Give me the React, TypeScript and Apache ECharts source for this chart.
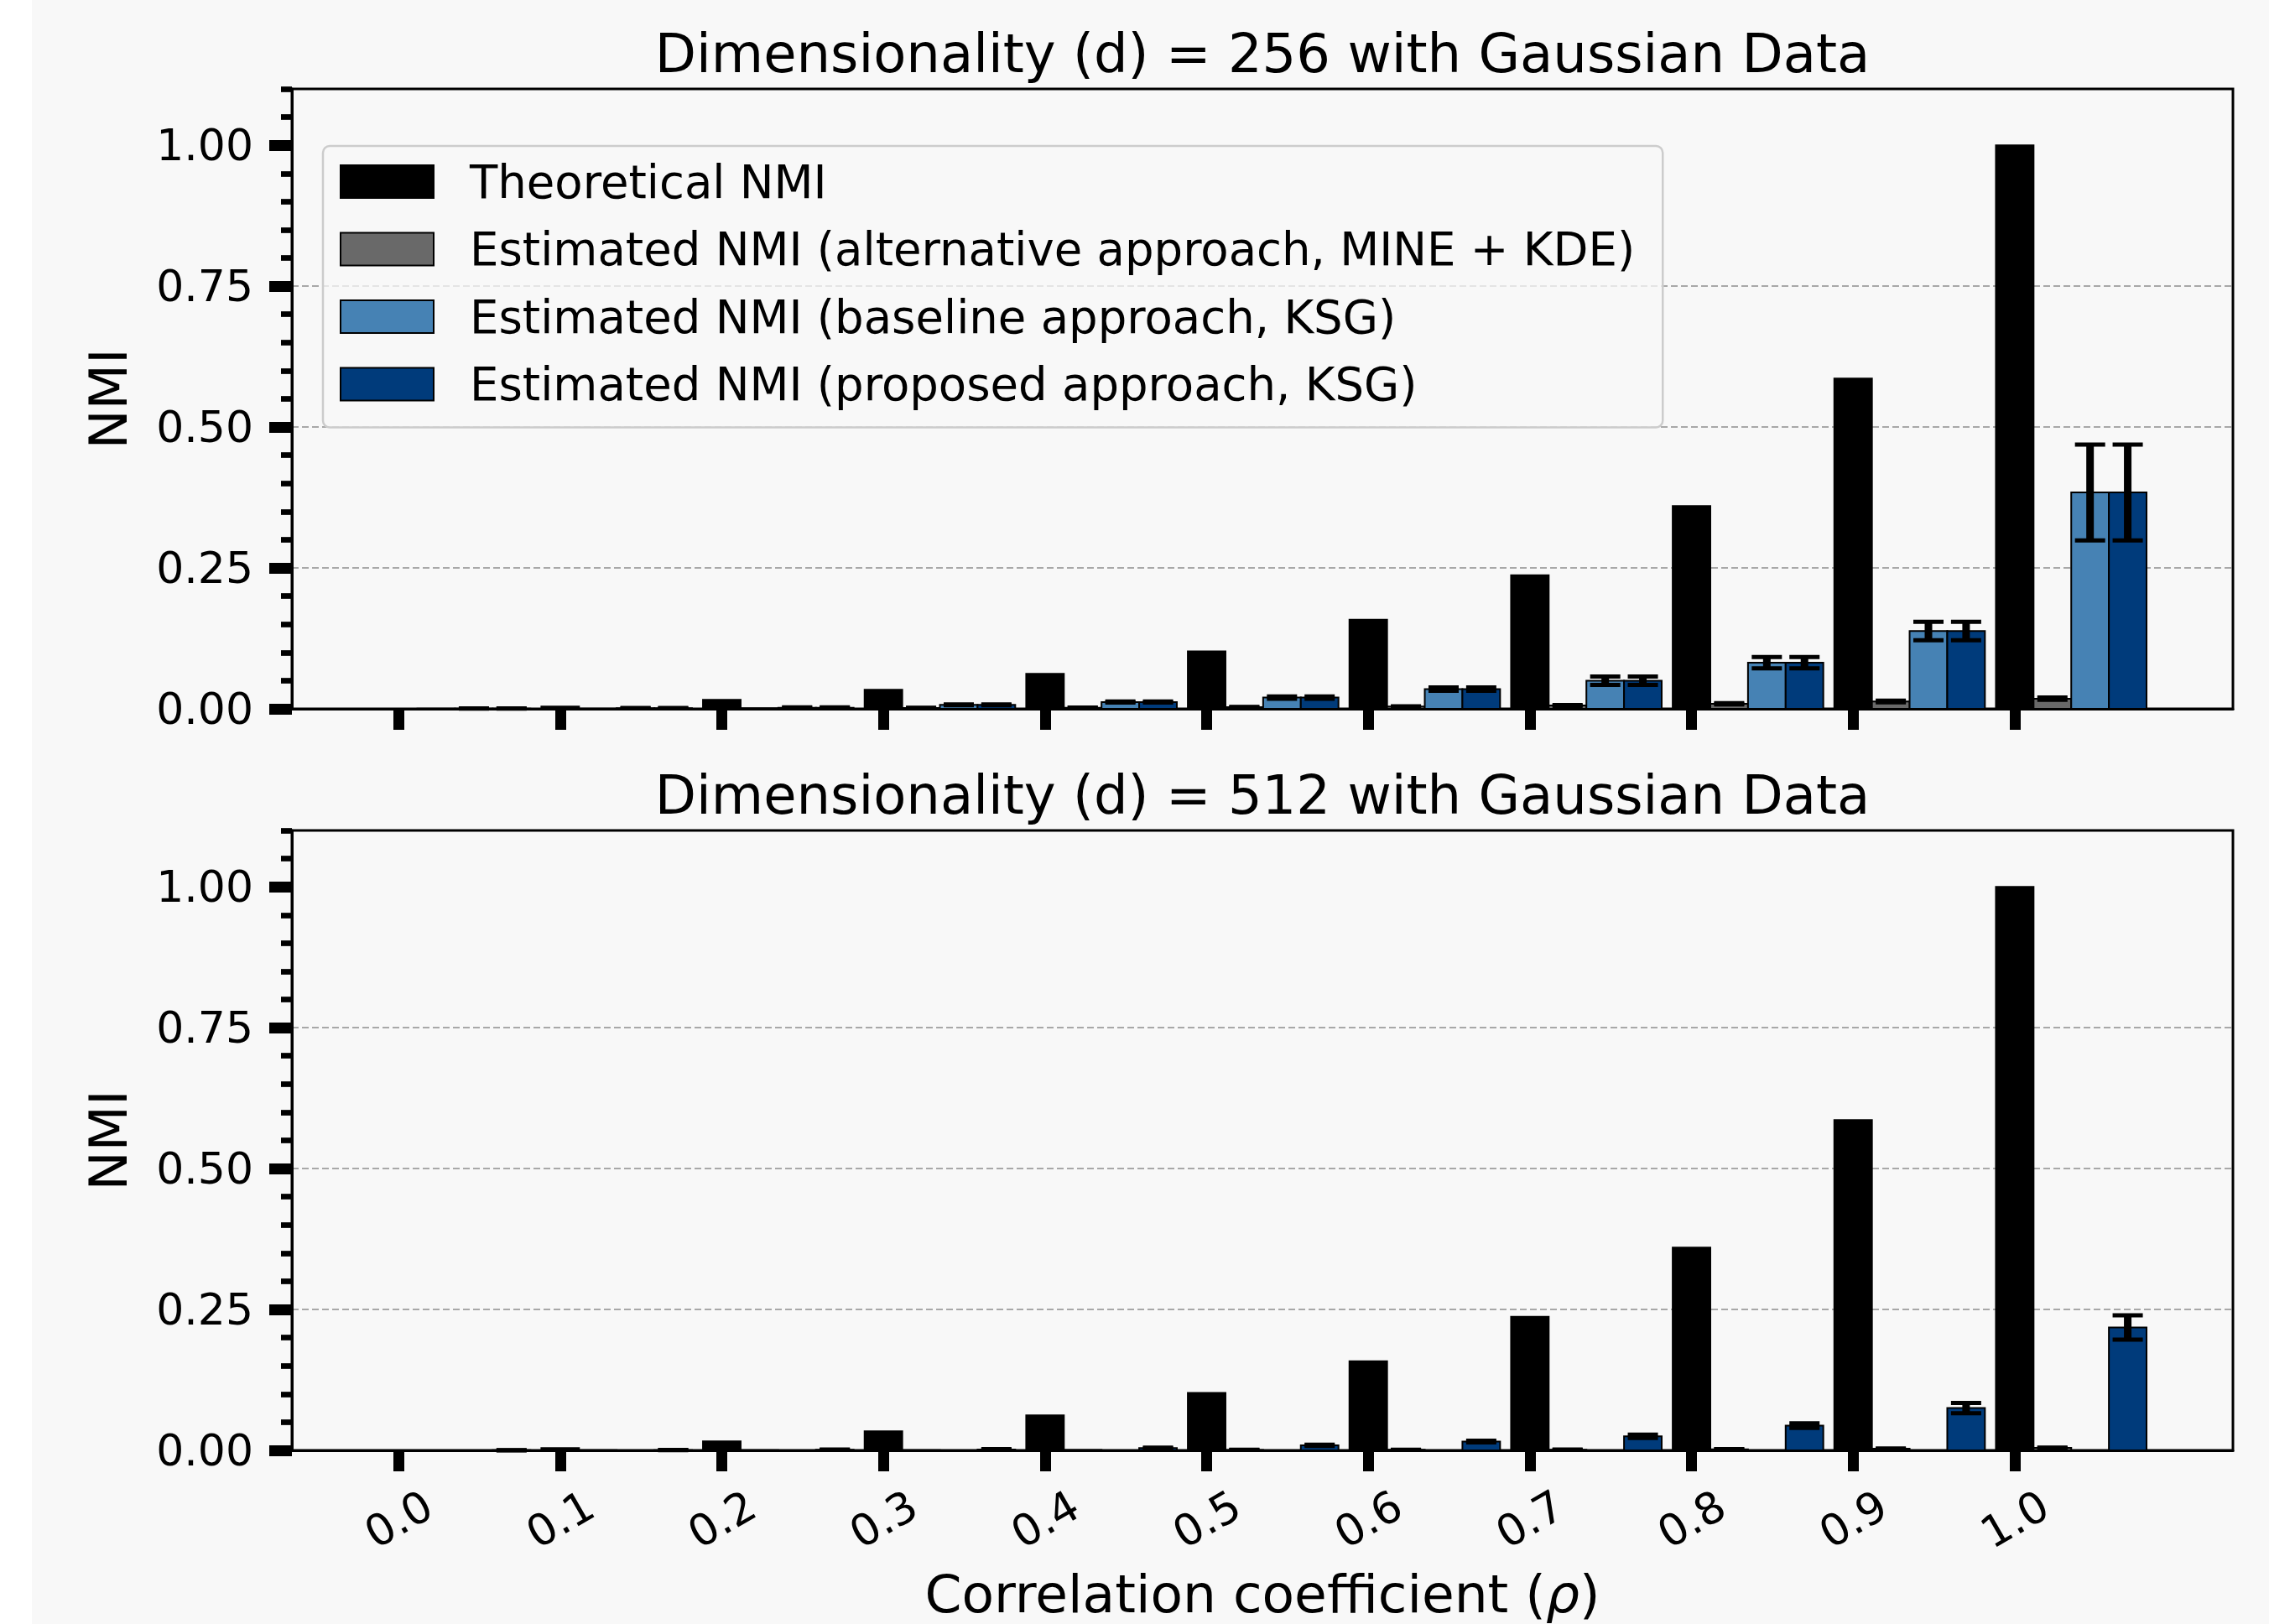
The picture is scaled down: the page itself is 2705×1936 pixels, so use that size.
import React, { useEffect, useRef } from 'react';
import * as echarts from 'echarts';

// ---------- data ----------
const rho = [0.0, 0.1, 0.2, 0.3, 0.4, 0.5, 0.6, 0.7, 0.8, 0.9, 1.0];
const rhoTickLabels = ['0.0', '0.1', '0.2', '0.3', '0.4', '0.5', '0.6', '0.7', '0.8', '0.9', '1.0'];
const yMajorTicks = [0, 0.25, 0.5, 0.75, 1.0];
const yMajorLabels = ['0.00', '0.25', '0.50', '0.75', '1.00'];
const yMinorTicks = [0.05, 0.1, 0.15, 0.2, 0.3, 0.35, 0.4, 0.45, 0.55, 0.6, 0.65, 0.7, 0.8, 0.85, 0.9, 0.95, 1.05, 1.1];

const theoreticalNMI = [0.0, 0.004, 0.016, 0.034, 0.062, 0.102, 0.158, 0.237, 0.36, 0.586, 1.0];

// d = 256
const d256Alt = [0.0002, 0.0005, 0.001, 0.0015, 0.002, 0.003, 0.004, 0.006, 0.009, 0.013, 0.018];
const d256AltErr = [0, 0, 0, 0.0002, 0.0003, 0.0004, 0.0005, 0.0007, 0.001, 0.0015, 0.002];
const d256Base = [0.0005, 0.001, 0.002, 0.007, 0.012, 0.02, 0.035, 0.05, 0.082, 0.138, 0.384];
const d256BaseErr = [0.0003, 0.0004, 0.0006, 0.0008, 0.001, 0.002, 0.003, 0.0074, 0.01, 0.0164, 0.085];
const d256Prop = [0.0005, 0.001, 0.002, 0.007, 0.012, 0.02, 0.035, 0.05, 0.082, 0.138, 0.384];
const d256PropErr = [0.0003, 0.0004, 0.0006, 0.0008, 0.001, 0.002, 0.003, 0.0074, 0.01, 0.0164, 0.085];

// d = 512
const d512Alt = [0.0, 0.0002, 0.0003, 0.0005, 0.0006, 0.0008, 0.001, 0.0012, 0.0018, 0.0028, 0.0045];
const d512AltErr = [0, 0, 0, 0, 0, 0.0002, 0.0002, 0.0003, 0.0003, 0.0004, 0.0005];
const d512Base = [0, 0, 0, 0, 0, 0, 0, 0, 0, 0, 0];
const d512BaseErr = [0, 0, 0, 0, 0, 0, 0, 0, 0, 0, 0];
const d512Prop = [0.0002, 0.0005, 0.001, 0.0015, 0.004, 0.009, 0.0156, 0.025, 0.044, 0.075, 0.218];
const d512PropErr = [0.0002, 0.0003, 0.0004, 0.0006, 0.0008, 0.001, 0.0015, 0.003, 0.004, 0.009, 0.0217];

const seriesNames = [
  'Theoretical NMI',
  'Estimated NMI (alternative approach, MINE + KDE)',
  'Estimated NMI (baseline approach, KSG)',
  'Estimated NMI (proposed approach, KSG)',
];
const seriesColors = ['#000000', '#696969', '#4682b4', '#003b7b'];

const titles = [
  'Dimensionality (d) = 256 with Gaussian Data',
  'Dimensionality (d) = 512 with Gaussian Data',
];

// ---------- layout / style ----------
const FONT = 'DejaVu Sans';
const BAR_W = 0.0233;
const OFFSETS = [0, BAR_W, 2 * BAR_W, 3 * BAR_W];
const X_MIN = -0.066;
const X_MAX = 1.135;
const GRID_LEFT = 348;
const GRID_W = 2314;
const GRID_H = 739;
const GRID_TOPS = [106, 990];

function zip(vals: number[], errs: number[]) {
  return rho.map((r, i) => [r, vals[i], errs[i]]);
}

const plotSets = [
  [zip(theoreticalNMI, rho.map(() => 0)), zip(d256Alt, d256AltErr), zip(d256Base, d256BaseErr), zip(d256Prop, d256PropErr)],
  [zip(theoreticalNMI, rho.map(() => 0)), zip(d512Alt, d512AltErr), zip(d512Base, d512BaseErr), zip(d512Prop, d512PropErr)],
];

function makeRender(k: number) {
  const color = seriesColors[k];
  return (params: any, api: any) => {
    const x = api.value(0) + OFFSETS[k];
    const y = api.value(1);
    const e = api.value(2) || 0;
    const tl = api.coord([x - BAR_W / 2, y]);
    const br = api.coord([x + BAR_W / 2, 0]);
    const children: any[] = [
      {
        type: 'rect',
        shape: { x: tl[0], y: tl[1], width: br[0] - tl[0], height: br[1] - tl[1] },
        style: { fill: color, stroke: '#000', lineWidth: 2 },
      },
    ];
    if (e > 0) {
      const top = api.coord([x, y + e]);
      const bot = api.coord([x, y - e]);
      children.push({
        type: 'line',
        shape: { x1: top[0], y1: top[1], x2: bot[0], y2: bot[1] },
        style: { stroke: '#000', lineWidth: 9 },
      });
      children.push({
        type: 'line',
        shape: { x1: top[0] - 18, y1: top[1], x2: top[0] + 18, y2: top[1] },
        style: { stroke: '#000', lineWidth: 5 },
      });
      children.push({
        type: 'line',
        shape: { x1: bot[0] - 18, y1: bot[1], x2: bot[0] + 18, y2: bot[1] },
        style: { stroke: '#000', lineWidth: 5 },
      });
    }
    return { type: 'group', children };
  };
}

function buildOption() {
  const grid = GRID_TOPS.map((t) => ({
    left: GRID_LEFT,
    top: t,
    width: GRID_W,
    height: GRID_H,
    show: true,
    borderColor: '#000',
    borderWidth: 3,
    backgroundColor: 'transparent',
    containLabel: false,
    outerBoundsMode: 'none',
  }));

  const xAxis = GRID_TOPS.map((_, g) => ({
    type: 'value',
    gridIndex: g,
    min: X_MIN,
    max: X_MAX,
    splitLine: { show: false },
    axisLine: { show: true, onZero: false, lineStyle: { color: '#000', width: 3 } },
    axisTick: { show: true, customValues: rho, length: 25, lineStyle: { color: '#000', width: 13 } },
    axisLabel: {
      show: g === 1,
      customValues: rho,
      formatter: (v: number) => {
        const i = rho.findIndex((r) => Math.abs(r - v) < 1e-9);
        return i >= 0 ? rhoTickLabels[i] : '';
      },
      rotate: 30,
      align: 'center',
      verticalAlign: 'middle',
      margin: 82,
      fontSize: 52,
      fontFamily: FONT,
      color: '#000',
    },
    name: g === 1 ? 'Correlation coefficient ({i|\u03c1})' : '',
    nameLocation: 'middle',
    nameGap: 171,
    nameTextStyle: {
      fontSize: 63,
      lineHeight: 58,
      fontFamily: FONT,
      color: '#000',
      verticalAlign: 'middle',
      rich: { i: { fontSize: 63, lineHeight: 58, fontFamily: FONT, fontStyle: 'italic', color: '#000' } },
    },
  }));

  const yAxis: any[] = [];
  GRID_TOPS.forEach((_, g) => {
    yAxis.push({
      type: 'value',
      gridIndex: g,
      min: 0,
      max: 1.1,
      interval: 0.25,
      position: 'left',
      axisLine: { show: true, onZero: false, lineStyle: { color: '#000', width: 3 } },
      axisTick: { show: true, customValues: yMajorTicks, length: 27, lineStyle: { color: '#000', width: 13 } },
      axisLabel: {
        customValues: yMajorTicks,
        formatter: (v: number) => {
          const i = yMajorTicks.findIndex((r) => Math.abs(r - v) < 1e-9);
          return i >= 0 ? yMajorLabels[i] : '';
        },
        margin: 46,
        fontSize: 52,
        fontFamily: FONT,
        color: '#000',
      },
      splitLine: {
        show: true,
        showMinLine: false,
        showMaxLine: false,
        lineStyle: { color: '#a8a8a8', type: [8, 4], width: 2.2 },
      },
      name: 'NMI',
      nameLocation: 'middle',
      nameGap: 219,
      nameRotate: 90,
      nameTextStyle: { fontSize: 63, fontFamily: FONT, color: '#000', verticalAlign: 'middle' },
    });
    yAxis.push({
      type: 'value',
      gridIndex: g,
      min: 0,
      max: 1.1,
      position: 'left',
      offset: 0,
      axisLine: { show: false, onZero: false },
      axisTick: { show: true, customValues: yMinorTicks, length: 13, lineStyle: { color: '#000', width: 6.7 } },
      axisLabel: { show: false },
      splitLine: { show: false },
    });
  });

  const series: any[] = [];
  plotSets.forEach((set, g) => {
    set.forEach((data, k) => {
      series.push({
        type: 'custom',
        name: seriesNames[k],
        coordinateSystem: 'cartesian2d',
        xAxisIndex: g,
        yAxisIndex: g * 2,
        dimensions: ['x', 'y', 'err'],
        encode: { x: 0, y: 1 },
        itemStyle: { color: seriesColors[k], borderColor: '#000', borderWidth: 2 },
        renderItem: makeRender(k),
        data,
        z: 2 + k,
      });
    });
  });

  return {
    animation: false,
    backgroundColor: 'transparent',
    title: titles.map((t, g) => ({
      text: t,
      left: GRID_LEFT + GRID_W / 2,
      top: GRID_TOPS[g] - 42,
      textAlign: 'center',
      textVerticalAlign: 'middle',
      padding: 0,
      textStyle: { fontSize: 64, fontWeight: 'normal', fontFamily: FONT, color: '#000' },
    })),
    legend: {
      orient: 'vertical',
      left: 385,
      top: 174,
      padding: [15, 33, 24, 20],
      itemWidth: 111,
      itemHeight: 39,
      itemGap: 25.5,
      backgroundColor: 'rgba(248,248,248,0.75)',
      borderColor: '#cccccc',
      borderWidth: 2.5,
      borderRadius: 8,
      selectedMode: false,
      textStyle: {
        fontSize: 54.5,
        fontFamily: FONT,
        color: '#000',
        padding: [0, 0, 0, 38],
      },
      data: seriesNames.map((n, k) => ({
        name: n,
        icon: 'rect',
        itemStyle: { color: seriesColors[k], borderColor: '#000', borderWidth: 2 },
      })),
    },
    grid,
    xAxis,
    yAxis,
    series,
  };
}

export default function App() {
  const ref = useRef<HTMLDivElement>(null);
  useEffect(() => {
    if (!ref.current) return;
    const chart = echarts.init(ref.current, null, { renderer: 'svg', width: 2705, height: 1936 });
    chart.setOption(buildOption() as any);
    return () => chart.dispose();
  }, []);
  return (
    <div
      style={{
        position: 'absolute',
        left: 0,
        top: 0,
        width: 2705,
        height: 1936,
        background: 'linear-gradient(to right, #ffffff 0px, #ffffff 38px, #f8f8f8 38px, #f8f8f8 100%)',
      }}
    >
      <div ref={ref} style={{ width: 2705, height: 1936 }} />
    </div>
  );
}
